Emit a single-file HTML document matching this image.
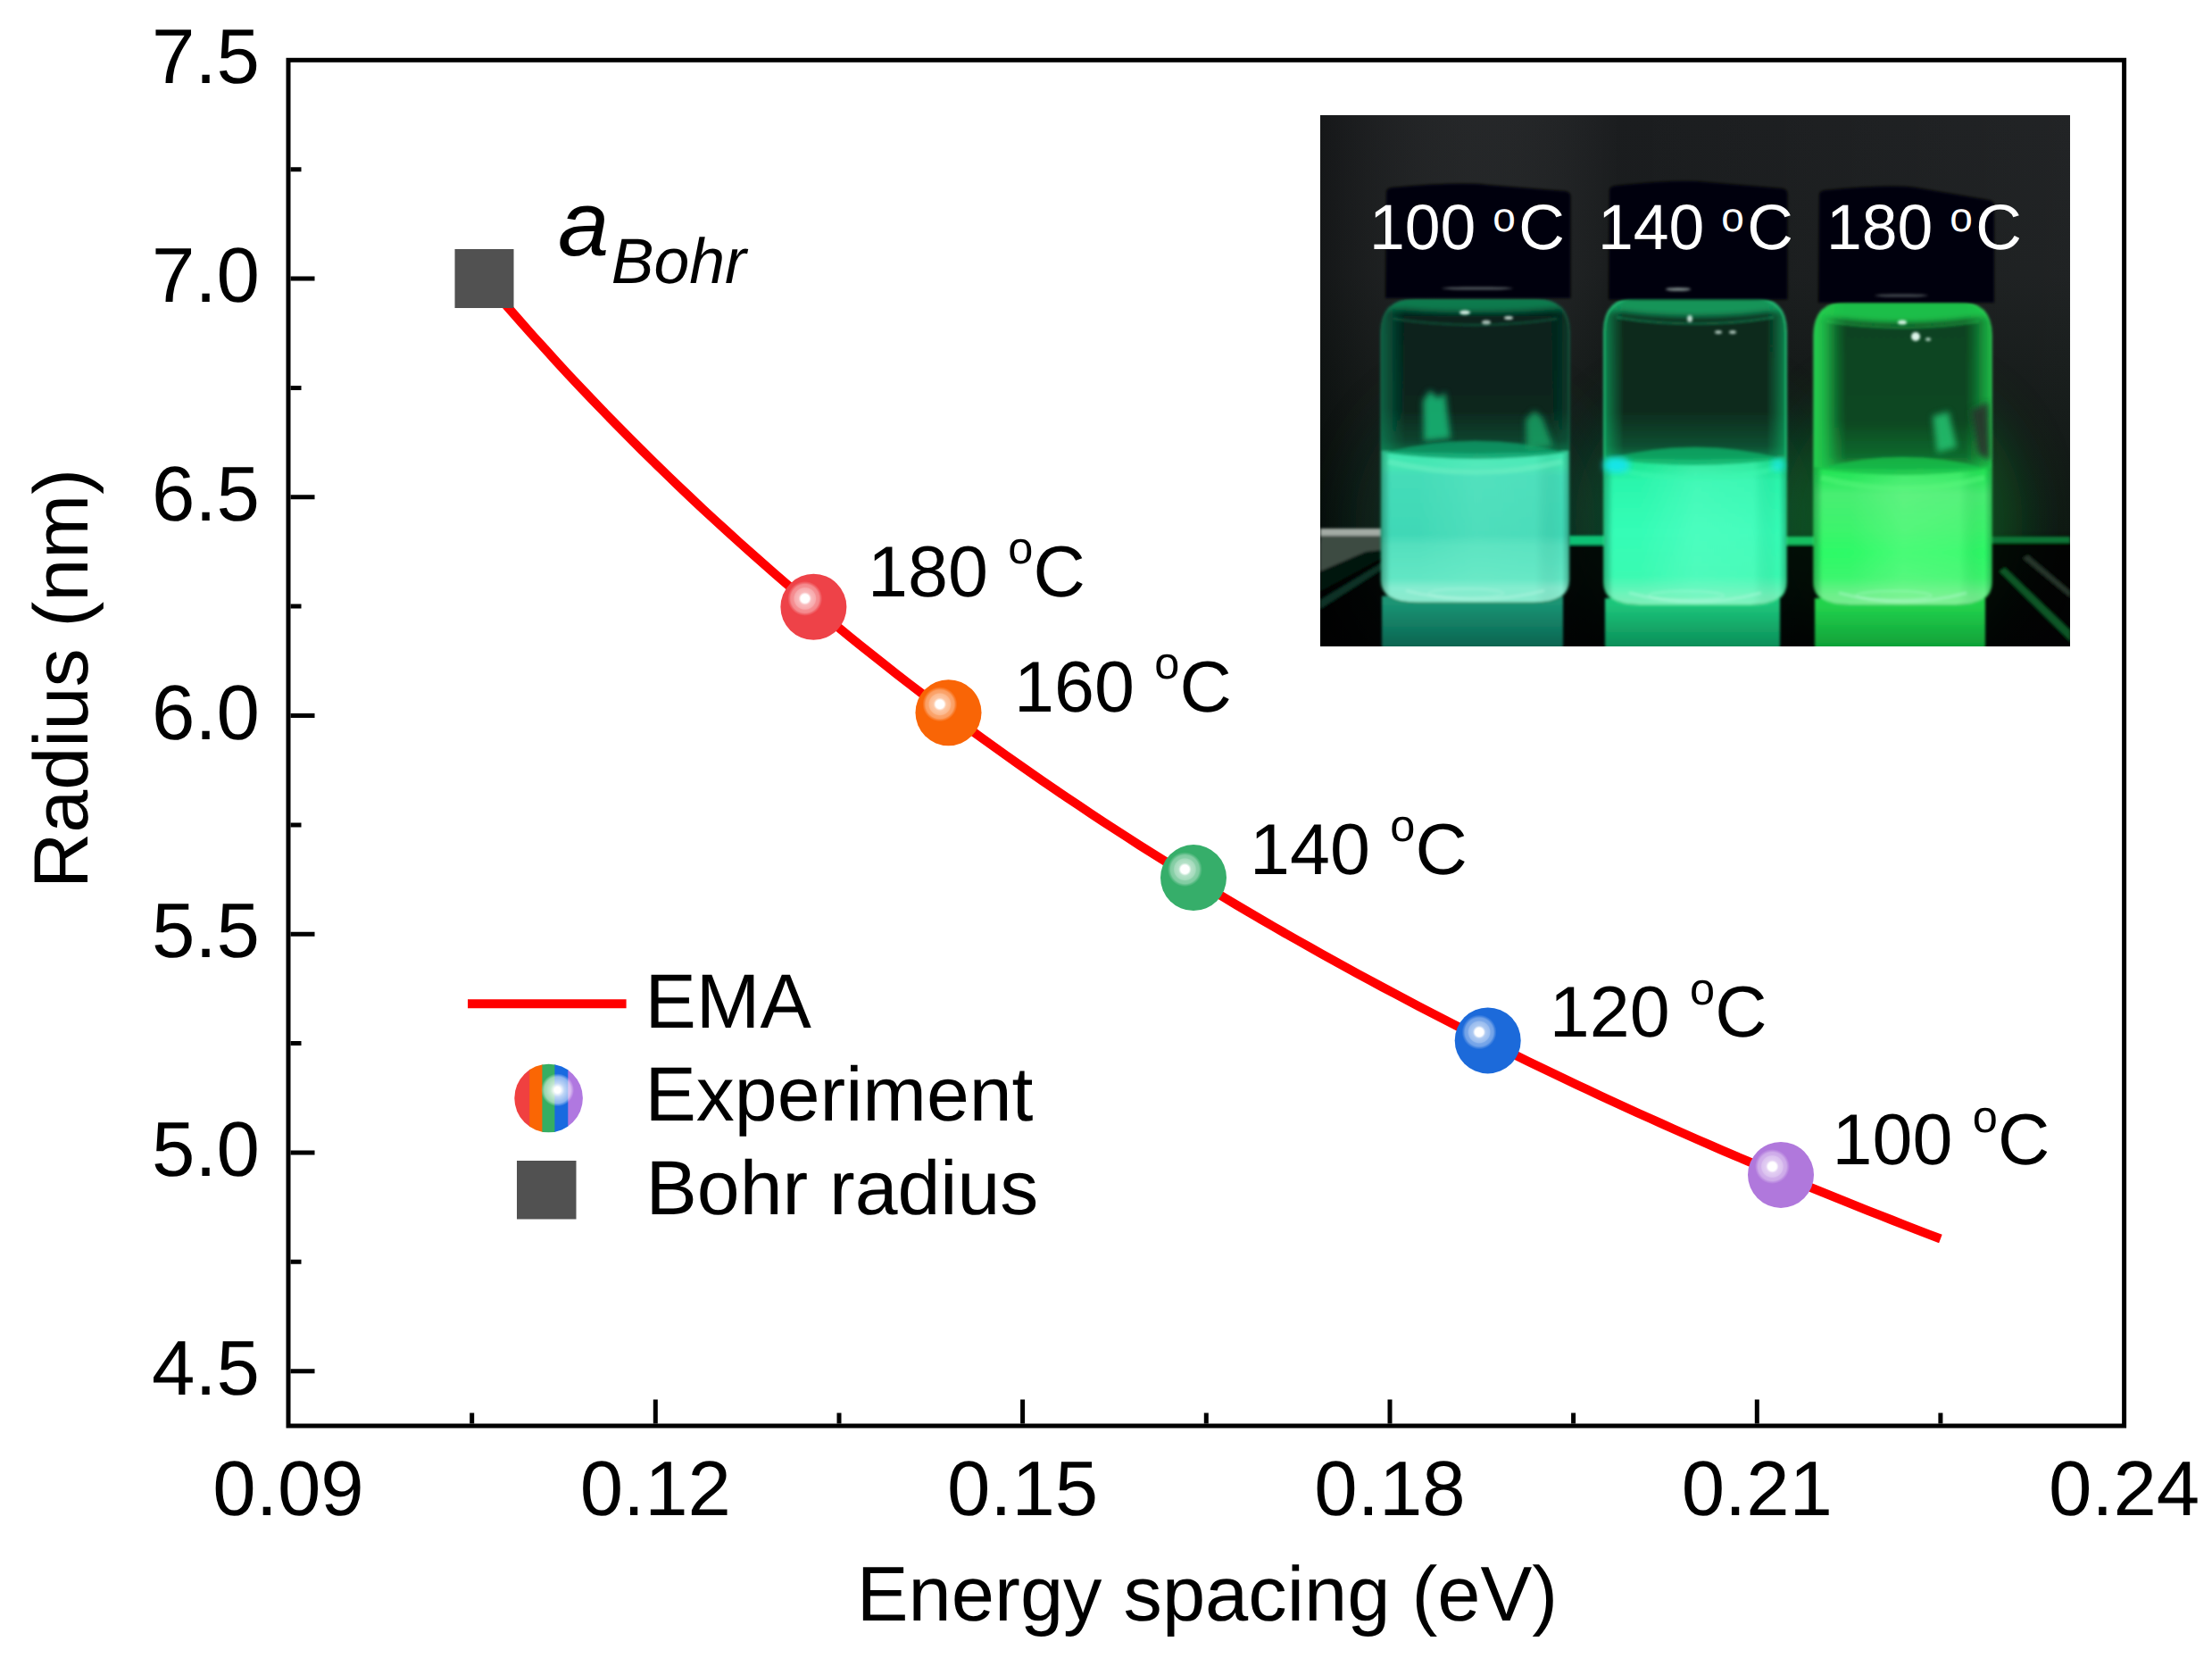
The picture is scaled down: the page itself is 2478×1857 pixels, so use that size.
<!DOCTYPE html>
<html lang="en"><head><meta charset="utf-8"><title>Radius vs energy spacing</title>
<style>html,body{margin:0;padding:0;background:#fff}body{width:2478px;height:1857px;overflow:hidden}svg{display:block}</style>
</head><body>
<svg width="2478" height="1857" viewBox="0 0 2478 1857" font-family="Liberation Sans, sans-serif" text-rendering="geometricPrecision">
<defs>
<radialGradient id="hl" cx="0.5" cy="0.5" r="0.5">
<stop offset="0" stop-color="#fff" stop-opacity="1"/>
<stop offset="0.24" stop-color="#fff" stop-opacity="1"/>
<stop offset="0.37" stop-color="#fff" stop-opacity="0.64"/>
<stop offset="0.6" stop-color="#fff" stop-opacity="0.55"/>
<stop offset="0.66" stop-color="#fff" stop-opacity="0.42"/>
<stop offset="0.82" stop-color="#fff" stop-opacity="0.37"/>
<stop offset="0.89" stop-color="#fff" stop-opacity="0.2"/>
<stop offset="1" stop-color="#fff" stop-opacity="0"/>
</radialGradient>
<radialGradient id="hl2" cx="0.5" cy="0.5" r="0.5">
<stop offset="0" stop-color="#fff" stop-opacity="1"/>
<stop offset="0.18" stop-color="#fff" stop-opacity="1"/>
<stop offset="0.42" stop-color="#fff" stop-opacity="0.72"/>
<stop offset="0.8" stop-color="#fff" stop-opacity="0.5"/>
<stop offset="1" stop-color="#fff" stop-opacity="0"/>
</radialGradient>
<clipPath id="lgc"><circle cx="614.6" cy="1230" r="38.3"/></clipPath>
<clipPath id="pc"><rect x="1479" y="129" width="840" height="595"/></clipPath>
<filter id="b1" x="-5%" y="-5%" width="110%" height="110%"><feGaussianBlur stdDeviation="1.7"/></filter>
<filter id="b3" x="-15%" y="-15%" width="130%" height="130%"><feGaussianBlur stdDeviation="3.5"/></filter>
<filter id="b8" x="-30%" y="-30%" width="160%" height="160%"><feGaussianBlur stdDeviation="10"/></filter>
<filter id="b20" x="-60%" y="-60%" width="220%" height="220%"><feGaussianBlur stdDeviation="30"/></filter>
<linearGradient id="bgv" x1="0" y1="129" x2="0" y2="724" gradientUnits="userSpaceOnUse">
<stop offset="0" stop-color="#1b1d1f"/><stop offset="0.3" stop-color="#191c1d"/><stop offset="0.55" stop-color="#101614"/><stop offset="0.78" stop-color="#08100c"/><stop offset="0.80" stop-color="#030806"/><stop offset="1" stop-color="#020507"/></linearGradient>
<linearGradient id="bgh" x1="1479" y1="0" x2="2319" y2="0" gradientUnits="userSpaceOnUse">
<stop offset="0" stop-color="#000" stop-opacity="0.2"/><stop offset="0.4" stop-color="#fff" stop-opacity="0"/><stop offset="1" stop-color="#fff" stop-opacity="0.03"/></linearGradient>
<linearGradient id="v1g" x1="1547" y1="0" x2="1758" y2="0" gradientUnits="userSpaceOnUse">
<stop offset="0" stop-color="#0c6a48"/><stop offset="0.03" stop-color="#0c6a48"/><stop offset="0.096" stop-color="#07211a"/><stop offset="0.9359999999999999" stop-color="#07211a"/><stop offset="0.98" stop-color="#0a4430"/><stop offset="1" stop-color="#0a4430"/></linearGradient>
<linearGradient id="v1gv" x1="0" y1="335" x2="0" y2="505" gradientUnits="userSpaceOnUse">
<stop offset="0" stop-color="#0f9a60" stop-opacity="0"/><stop offset="0.72" stop-color="#0f9a60" stop-opacity="0.03"/><stop offset="0.93" stop-color="#0f9a60" stop-opacity="0.28"/><stop offset="1" stop-color="#0f9a60" stop-opacity="0.55"/></linearGradient>
<linearGradient id="v1l" x1="0" y1="505" x2="0" y2="675.5" gradientUnits="userSpaceOnUse"><stop offset="0" stop-color="#3ee8b0"/><stop offset="0.1" stop-color="#46e6b4"/><stop offset="0.17" stop-color="#44dcb8"/><stop offset="0.55" stop-color="#40d8b6"/><stop offset="0.62" stop-color="#54e0be"/><stop offset="0.84" stop-color="#62e6c4"/><stop offset="0.9" stop-color="#86ecd0"/><stop offset="1" stop-color="#8ce8cc"/></linearGradient>
<linearGradient id="v1lh" x1="1547" y1="0" x2="1758" y2="0" gradientUnits="userSpaceOnUse">
<stop offset="0" stop-color="#002a18" stop-opacity="0.35"/><stop offset="0.05" stop-color="#002a18" stop-opacity="0"/><stop offset="0.2" stop-color="#7af0cc" stop-opacity="0.0"/><stop offset="0.5" stop-color="#7af0cc" stop-opacity="0.25"/><stop offset="0.82" stop-color="#7af0cc" stop-opacity="0.18"/><stop offset="0.96" stop-color="#002a18" stop-opacity="0"/><stop offset="1" stop-color="#002a18" stop-opacity="0.3"/></linearGradient>
<linearGradient id="v1r" x1="0" y1="675.5" x2="0" y2="724" gradientUnits="userSpaceOnUse"><stop offset="0" stop-color="#1a9474"/><stop offset="1" stop-color="#0a6450"/></linearGradient>
<clipPath id="v1c"><path d="M1547,373 Q1547,335 1585,335 H1720 Q1758,335 1758,373 V649.5 Q1758,675.5 1718,675.5 H1587 Q1547,675.5 1547,649.5Z"/></clipPath>
<linearGradient id="v2g" x1="1797" y1="0" x2="2001" y2="0" gradientUnits="userSpaceOnUse">
<stop offset="0" stop-color="#15b066"/><stop offset="0.02" stop-color="#15b066"/><stop offset="0.064" stop-color="#08281b"/><stop offset="0.9359999999999999" stop-color="#08281b"/><stop offset="0.98" stop-color="#15b066"/><stop offset="1" stop-color="#15b066"/></linearGradient>
<linearGradient id="v2gv" x1="0" y1="333.5" x2="0" y2="512" gradientUnits="userSpaceOnUse">
<stop offset="0" stop-color="#16b06a" stop-opacity="0"/><stop offset="0.72" stop-color="#16b06a" stop-opacity="0.03"/><stop offset="0.93" stop-color="#16b06a" stop-opacity="0.28"/><stop offset="1" stop-color="#16b06a" stop-opacity="0.55"/></linearGradient>
<linearGradient id="v2l" x1="0" y1="512" x2="0" y2="678" gradientUnits="userSpaceOnUse"><stop offset="0" stop-color="#1ee090"/><stop offset="0.08" stop-color="#22ea9a"/><stop offset="0.16" stop-color="#2af6ac"/><stop offset="0.5" stop-color="#34fdb6"/><stop offset="0.8" stop-color="#3afab2"/><stop offset="0.92" stop-color="#6cf4ba"/><stop offset="1" stop-color="#80eeb8"/></linearGradient>
<linearGradient id="v2lh" x1="1797" y1="0" x2="2001" y2="0" gradientUnits="userSpaceOnUse">
<stop offset="0" stop-color="#002a18" stop-opacity="0.35"/><stop offset="0.05" stop-color="#002a18" stop-opacity="0"/><stop offset="0.2" stop-color="#8cffd8" stop-opacity="0.0"/><stop offset="0.5" stop-color="#8cffd8" stop-opacity="0.25"/><stop offset="0.82" stop-color="#8cffd8" stop-opacity="0.18"/><stop offset="0.96" stop-color="#002a18" stop-opacity="0"/><stop offset="1" stop-color="#002a18" stop-opacity="0.3"/></linearGradient>
<linearGradient id="v2r" x1="0" y1="678" x2="0" y2="724" gradientUnits="userSpaceOnUse"><stop offset="0" stop-color="#1cc47a"/><stop offset="1" stop-color="#0c8e58"/></linearGradient>
<clipPath id="v2c"><path d="M1797,371.5 Q1797,333.5 1835,333.5 H1963 Q2001,333.5 2001,371.5 V652 Q2001,678 1961,678 H1837 Q1797,678 1797,652Z"/></clipPath>
<linearGradient id="v3g" x1="2032" y1="0" x2="2231" y2="0" gradientUnits="userSpaceOnUse">
<stop offset="0" stop-color="#20cc4e"/><stop offset="0.05" stop-color="#20cc4e"/><stop offset="0.16000000000000003" stop-color="#0a4220"/><stop offset="0.888" stop-color="#0a4220"/><stop offset="0.965" stop-color="#1dc048"/><stop offset="1" stop-color="#1dc048"/></linearGradient>
<linearGradient id="v3gv" x1="0" y1="338" x2="0" y2="523" gradientUnits="userSpaceOnUse">
<stop offset="0" stop-color="#20cc4e" stop-opacity="0"/><stop offset="0.72" stop-color="#20cc4e" stop-opacity="0.03"/><stop offset="0.93" stop-color="#20cc4e" stop-opacity="0.28"/><stop offset="1" stop-color="#20cc4e" stop-opacity="0.55"/></linearGradient>
<linearGradient id="v3l" x1="0" y1="523" x2="0" y2="678" gradientUnits="userSpaceOnUse"><stop offset="0" stop-color="#22e252"/><stop offset="0.1" stop-color="#2ee860"/><stop offset="0.2" stop-color="#48ee72"/><stop offset="0.45" stop-color="#3cf46c"/><stop offset="0.62" stop-color="#2cfa66"/><stop offset="0.8" stop-color="#3cf66e"/><stop offset="0.92" stop-color="#6cf08a"/><stop offset="1" stop-color="#78ea90"/></linearGradient>
<linearGradient id="v3lh" x1="2032" y1="0" x2="2231" y2="0" gradientUnits="userSpaceOnUse">
<stop offset="0" stop-color="#002a18" stop-opacity="0.35"/><stop offset="0.05" stop-color="#002a18" stop-opacity="0"/><stop offset="0.2" stop-color="#9cffa8" stop-opacity="0.0"/><stop offset="0.5" stop-color="#9cffa8" stop-opacity="0.25"/><stop offset="0.82" stop-color="#9cffa8" stop-opacity="0.18"/><stop offset="0.96" stop-color="#002a18" stop-opacity="0"/><stop offset="1" stop-color="#002a18" stop-opacity="0.3"/></linearGradient>
<linearGradient id="v3r" x1="0" y1="678" x2="0" y2="724" gradientUnits="userSpaceOnUse"><stop offset="0" stop-color="#22d24c"/><stop offset="1" stop-color="#10a038"/></linearGradient>
<clipPath id="v3c"><path d="M2032,376 Q2032,338 2070,338 H2193 Q2231,338 2231,376 V652 Q2231,678 2191,678 H2072 Q2032,678 2032,652Z"/></clipPath>
</defs>
<rect width="2478" height="1857" fill="#fff"/>
<g clip-path="url(#pc)">
<rect x="1479" y="129" width="840" height="595" fill="url(#bgv)"/>
<rect x="1479" y="129" width="840" height="595" fill="url(#bgh)"/>
<ellipse cx="1652.5" cy="585" rx="135" ry="150" fill="#083c2a" opacity="0.42" filter="url(#b20)"/>
<ellipse cx="1899.0" cy="585" rx="135" ry="150" fill="#0a6a3c" opacity="0.5" filter="url(#b20)"/>
<ellipse cx="2131.5" cy="585" rx="135" ry="150" fill="#0b7a2c" opacity="0.5" filter="url(#b20)"/>
<g filter="url(#b1)">
<rect x="1470" y="607" width="860" height="130" fill="#020605" opacity="0.8"/>
<path d="M1479,592 H1549 V600.5 H1479Z" fill="#a3aba4"/>
<path d="M1479,600.5 H1549 V616 L1530,618 L1479,640Z" fill="#3c4b42"/>
<path d="M1479,641 L1532,618 L1549,617 L1549,624 L1479,662Z" fill="#06120d"/>
<path d="M1479,672 L1549,630 L1549,637 L1479,682Z" fill="#0c3a2a" opacity="0.85"/>
<rect x="1757" y="600" width="42" height="10" fill="#10c274"/>
<rect x="1999" y="601" width="35" height="9" fill="#12c060"/>
<rect x="2230" y="601" width="89" height="7" fill="#0e7436"/>
<path d="M2246,636 L2319,706 L2319,718 L2240,640Z" fill="#0c5e2c" opacity="0.9"/>
<path d="M2272,622 L2319,662 L2319,669 L2266,625Z" fill="#29392f" opacity="0.9"/>
</g>
<g filter="url(#b1)">
<rect x="1548" y="667.5" width="203" height="60.5" fill="url(#v1r)"/>
<g clip-path="url(#v1c)">
<path d="M1547,373 Q1547,335 1585,335 H1720 Q1758,335 1758,373 V649.5 Q1758,675.5 1718,675.5 H1587 Q1547,675.5 1547,649.5Z" fill="#07211a"/>
<rect x="1517" y="305" width="42.7" height="400.5" fill="#0c6a48" filter="url(#b8)" opacity="0.9"/>
<rect x="1749.6" y="305" width="38.4" height="400.5" fill="#0a4430" filter="url(#b8)" opacity="0.7"/>
<path d="M1542,330 H1763 V344.4 Q1652.5,356.2 1542,344.4Z" fill="#0f9a60" filter="url(#b3)" opacity="0.75"/>
<path d="M1547,373 Q1547,335 1585,335 H1720 Q1758,335 1758,373 V649.5 Q1758,675.5 1718,675.5 H1587 Q1547,675.5 1547,649.5Z" fill="url(#v1gv)"/>
</g>
<path d="M1547,373 Q1547,335 1585,335 H1720 Q1758,335 1758,373 V649.5 Q1758,675.5 1718,675.5 H1587 Q1547,675.5 1547,649.5Z" fill="none" stroke="#1a9a6a" stroke-width="1.8" opacity="0.35"/>
<path d="M1561,357 Q1652.5,371 1744,357" stroke="#1a9a6a" stroke-width="2.2" fill="none" opacity="0.35"/>
<path d="M1547.5,505 Q1652.5,511 1757.5,505 V649.5 Q1757.5,674.5 1718,674.5 H1587 Q1547.5,674.5 1547.5,649.5Z" fill="url(#v1l)"/>
<path d="M1547.5,505 Q1652.5,511 1757.5,505 V649.5 Q1757.5,674.5 1718,674.5 H1587 Q1547.5,674.5 1547.5,649.5Z" fill="url(#v1lh)"/>
<path d="M1550,507 Q1652.5,481 1755,507 Q1652.5,521 1550,507Z" fill="#0c9c68" opacity="0.8"/>
<path d="M1555,517 Q1652.5,541 1750,517" stroke="#74f2c6" stroke-width="6" fill="none" opacity="0.45"/>
<path d="M1575,661.5 Q1652.5,681.5 1730,661.5" stroke="#d0fff0" stroke-width="3" fill="none" opacity="0.3"/>
<ellipse cx="1642.5" cy="664.5" rx="42" ry="5" stroke="#d0fff0" stroke-width="2" fill="none" opacity="0.25"/>
</g>
<path d="M1553,215 Q1553,211 1559,210 Q1636.25,203 1666.25,207 L1753.5,214 Q1759.5,215 1759.5,220 V334 H1552Z" fill="#030307" filter="url(#b1)"/>
<g filter="url(#b1)">
<rect x="1798" y="670" width="196" height="58" fill="url(#v2r)"/>
<g clip-path="url(#v2c)">
<path d="M1797,371.5 Q1797,333.5 1835,333.5 H1963 Q2001,333.5 2001,371.5 V652 Q2001,678 1961,678 H1837 Q1797,678 1797,652Z" fill="#08281b"/>
<rect x="1767" y="303.5" width="38.2" height="404.5" fill="#15b066" filter="url(#b8)" opacity="0.85"/>
<rect x="1992.8" y="303.5" width="38.2" height="404.5" fill="#15b066" filter="url(#b8)" opacity="0.85"/>
<path d="M1792,328.5 H2006 V346.7 Q1899.0,363.5 1792,346.7Z" fill="#16b06a" filter="url(#b3)" opacity="0.8"/>
<path d="M1797,371.5 Q1797,333.5 1835,333.5 H1963 Q2001,333.5 2001,371.5 V652 Q2001,678 1961,678 H1837 Q1797,678 1797,652Z" fill="url(#v2gv)"/>
</g>
<path d="M1797,371.5 Q1797,333.5 1835,333.5 H1963 Q2001,333.5 2001,371.5 V652 Q2001,678 1961,678 H1837 Q1797,678 1797,652Z" fill="none" stroke="#2ee890" stroke-width="1.8" opacity="0.75"/>
<path d="M1811,355.5 Q1899.0,369.5 1987,355.5" stroke="#2ee890" stroke-width="2.2" fill="none" opacity="0.35"/>
<path d="M1797.5,512 Q1899.0,518 2000.5,512 V652 Q2000.5,677 1961,677 H1837 Q1797.5,677 1797.5,652Z" fill="url(#v2l)"/>
<path d="M1797.5,512 Q1899.0,518 2000.5,512 V652 Q2000.5,677 1961,677 H1837 Q1797.5,677 1797.5,652Z" fill="url(#v2lh)"/>
<path d="M1800,514 Q1899.0,488 1998,514 Q1899.0,528 1800,514Z" fill="#0fae66" opacity="0.8"/>
<path d="M1805,524 Q1899.0,548 1993,524" stroke="#3cf8b0" stroke-width="6" fill="none" opacity="0.45"/>
<ellipse cx="1811" cy="521" rx="15" ry="9" fill="#18e4ec" opacity="0.95" filter="url(#b3)"/>
<ellipse cx="1992" cy="521" rx="8" ry="7" fill="#18e4ec" opacity="0.7" filter="url(#b3)"/>
<path d="M1825,664 Q1899.0,684 1973,664" stroke="#d0fff0" stroke-width="3" fill="none" opacity="0.3"/>
<ellipse cx="1889.0" cy="667" rx="42" ry="5" stroke="#d0fff0" stroke-width="2" fill="none" opacity="0.25"/>
</g>
<path d="M1803,213 Q1803,209 1809,208 Q1882.75,200 1912.75,204 L1996.5,211 Q2002.5,212 2002.5,217 V335.5 H1802Z" fill="#030307" filter="url(#b1)"/>
<g filter="url(#b1)">
<rect x="2033" y="670" width="191" height="58" fill="url(#v3r)"/>
<g clip-path="url(#v3c)">
<path d="M2032,376 Q2032,338 2070,338 H2193 Q2231,338 2231,376 V652 Q2231,678 2191,678 H2072 Q2032,678 2032,652Z" fill="#0a4220"/>
<rect x="2002" y="308" width="49.9" height="400" fill="#20cc4e" filter="url(#b8)" opacity="1"/>
<rect x="2217.1" y="308" width="43.9" height="400" fill="#1dc048" filter="url(#b8)" opacity="0.95"/>
<path d="M2027,333 H2236 V352.9 Q2131.5,371.8 2027,352.9Z" fill="#20cc4e" filter="url(#b3)" opacity="0.9"/>
<path d="M2032,376 Q2032,338 2070,338 H2193 Q2231,338 2231,376 V652 Q2231,678 2191,678 H2072 Q2032,678 2032,652Z" fill="url(#v3gv)"/>
</g>
<path d="M2032,376 Q2032,338 2070,338 H2193 Q2231,338 2231,376 V652 Q2231,678 2191,678 H2072 Q2032,678 2032,652Z" fill="none" stroke="#36e860" stroke-width="1.8" opacity="0.6"/>
<path d="M2046,360 Q2131.5,374 2217,360" stroke="#36e860" stroke-width="2.2" fill="none" opacity="0.35"/>
<path d="M2032.5,523 Q2131.5,529 2230.5,523 V652 Q2230.5,677 2191,677 H2072 Q2032.5,677 2032.5,652Z" fill="url(#v3l)"/>
<path d="M2032.5,523 Q2131.5,529 2230.5,523 V652 Q2230.5,677 2191,677 H2072 Q2032.5,677 2032.5,652Z" fill="url(#v3lh)"/>
<path d="M2035,525 Q2131.5,499 2228,525 Q2131.5,539 2035,525Z" fill="#18c04a" opacity="0.8"/>
<path d="M2040,535 Q2131.5,559 2223,535" stroke="#5cf87c" stroke-width="6" fill="none" opacity="0.45"/>
<path d="M2060,664 Q2131.5,684 2203,664" stroke="#d0fff0" stroke-width="3" fill="none" opacity="0.3"/>
<ellipse cx="2121.5" cy="667" rx="42" ry="5" stroke="#d0fff0" stroke-width="2" fill="none" opacity="0.25"/>
</g>
<path d="M2038,218 Q2038,214 2044,213 Q2116.0,206 2146.0,210 L2228,224 Q2234,225 2234,230 V339 H2037Z" fill="#030307" filter="url(#b1)"/>
<g filter="url(#b3)">
<path d="M1594,449 l8,-12 l9,9 l8,-7 l6,52 l-30,3Z" fill="#1bb474" opacity="0.9"/>
<path d="M1709,470 l10,-10 l9,8 l12,32 l-30,4Z" fill="#17a868" opacity="0.8"/>
<path d="M2165,466 l18,-5 l9,40 l-22,6Z" fill="#26c472" opacity="0.85"/>
<path d="M2208,460 l19,-10 l2,66 l-13,-8Z" fill="#26362c" opacity="0.95"/>
</g>
<g fill="#eafff6" filter="url(#b1)">
<ellipse cx="1641" cy="350" rx="6" ry="2.5" opacity="0.9"/>
<ellipse cx="1665" cy="361" rx="5" ry="2.5" opacity="0.7"/>
<ellipse cx="1690" cy="356" rx="5" ry="2" opacity="0.8"/>
<ellipse cx="1893" cy="357" rx="3" ry="4" opacity="0.8"/>
<ellipse cx="1925" cy="372" rx="4" ry="2" opacity="0.7"/>
<ellipse cx="1941" cy="372" rx="4" ry="2" opacity="0.7"/>
<ellipse cx="2131" cy="361" rx="5" ry="2.5" opacity="0.9"/>
<ellipse cx="2146" cy="377" rx="5" ry="5" opacity="0.95"/>
<ellipse cx="2160" cy="380" rx="3" ry="2" opacity="0.7"/>
<ellipse cx="1880" cy="324" rx="14" ry="2" opacity="0.5"/>
<ellipse cx="1655" cy="323" rx="40" ry="1.6" opacity="0.35"/>
<ellipse cx="2130" cy="331" rx="30" ry="1.6" opacity="0.3"/>
</g>
<g font-size="71.5" fill="#fff">
<text x="1534.0" y="279.3">100 <tspan x="1672.3" font-size="46" dy="-20.7">o</tspan><tspan x="1701.3" dy="20.7">C</tspan></text>
<text x="1790.0" y="279.3">140 <tspan x="1928.3" font-size="46" dy="-20.7">o</tspan><tspan x="1957.3" dy="20.7">C</tspan></text>
<text x="2046.0" y="279.3">180 <tspan x="2184.3" font-size="46" dy="-20.7">o</tspan><tspan x="2213.3" dy="20.7">C</tspan></text>
</g>
</g>
<path d="M542.4,313.3 L556.0,329.3 L569.6,344.9 L583.2,360.4 L596.8,375.7 L610.4,390.7 L623.9,405.6 L637.5,420.3 L651.1,434.7 L664.7,449.0 L678.3,463.1 L691.9,477.0 L705.5,490.8 L719.1,504.4 L732.7,517.8 L746.3,531.0 L759.9,544.1 L773.5,557.0 L787.1,569.8 L800.7,582.4 L814.3,594.8 L827.9,607.1 L841.5,619.3 L855.1,631.3 L868.7,643.2 L882.3,655.0 L895.9,666.6 L909.5,678.1 L923.1,689.5 L936.7,700.7 L950.3,711.8 L963.9,722.8 L977.5,733.7 L991.1,744.4 L1004.6,755.1 L1018.2,765.6 L1031.8,776.0 L1045.4,786.4 L1059.0,796.6 L1072.6,806.7 L1086.2,816.6 L1099.8,826.5 L1113.4,836.3 L1127.0,846.0 L1140.6,855.6 L1154.2,865.1 L1167.8,874.6 L1181.4,883.9 L1195.0,893.1 L1208.6,902.2 L1222.2,911.3 L1235.8,920.3 L1249.4,929.1 L1263.0,937.9 L1276.6,946.7 L1290.2,955.3 L1303.8,963.8 L1317.4,972.3 L1331.0,980.7 L1344.6,989.0 L1358.2,997.3 L1371.8,1005.5 L1385.3,1013.6 L1398.9,1021.6 L1412.5,1029.6 L1426.1,1037.5 L1439.7,1045.3 L1453.3,1053.0 L1466.9,1060.7 L1480.5,1068.3 L1494.1,1075.9 L1507.7,1083.4 L1521.3,1090.8 L1534.9,1098.2 L1548.5,1105.5 L1562.1,1112.7 L1575.7,1119.9 L1589.3,1127.1 L1602.9,1134.1 L1616.5,1141.1 L1630.1,1148.1 L1643.7,1155.0 L1657.3,1161.9 L1670.9,1168.6 L1684.5,1175.4 L1698.1,1182.1 L1711.7,1188.7 L1725.3,1195.3 L1738.9,1201.8 L1752.5,1208.3 L1766.0,1214.7 L1779.6,1221.1 L1793.2,1227.5 L1806.8,1233.7 L1820.4,1240.0 L1834.0,1246.2 L1847.6,1252.3 L1861.2,1258.4 L1874.8,1264.5 L1888.4,1270.5 L1902.0,1276.5 L1915.6,1282.4 L1929.2,1288.3 L1942.8,1294.1 L1956.4,1299.9 L1970.0,1305.7 L1983.6,1311.4 L1997.2,1317.1 L2010.8,1322.7 L2024.4,1328.3 L2038.0,1333.9 L2051.6,1339.4 L2065.2,1344.9 L2078.8,1350.4 L2092.4,1355.8 L2106.0,1361.1 L2119.6,1366.5 L2133.2,1371.8 L2146.7,1377.1 L2160.3,1382.3 L2173.9,1387.5" fill="none" stroke="#ff0000" stroke-width="10" stroke-linecap="butt" stroke-linejoin="round"/>
<rect x="323.0" y="67.3" width="2056.6" height="1529.7" fill="none" stroke="#000" stroke-width="5"/>
<path d="M325.5,189.7h12 M325.5,312.0h27 M325.5,434.4h12 M325.5,556.8h27 M325.5,679.1h12 M325.5,801.5h27 M325.5,923.9h12 M325.5,1046.2h27 M325.5,1168.6h12 M325.5,1290.9h27 M325.5,1413.3h12 M325.5,1535.7h27 M528.7,1594.5v-12 M734.3,1594.5v-27 M940.0,1594.5v-12 M1145.6,1594.5v-27 M1351.3,1594.5v-12 M1557.0,1594.5v-27 M1762.6,1594.5v-12 M1968.3,1594.5v-27 M2173.9,1594.5v-12" stroke="#000" stroke-width="5" fill="none"/>
<g font-size="87" fill="#000">
<text x="291" y="93.3" text-anchor="end">7.5</text>
<text x="291" y="338.0" text-anchor="end">7.0</text>
<text x="291" y="582.8" text-anchor="end">6.5</text>
<text x="291" y="827.5" text-anchor="end">6.0</text>
<text x="291" y="1072.2" text-anchor="end">5.5</text>
<text x="291" y="1316.9" text-anchor="end">5.0</text>
<text x="291" y="1561.7" text-anchor="end">4.5</text>
<text x="323.0" y="1696.5" text-anchor="middle">0.09</text>
<text x="734.3" y="1696.5" text-anchor="middle">0.12</text>
<text x="1145.6" y="1696.5" text-anchor="middle">0.15</text>
<text x="1557.0" y="1696.5" text-anchor="middle">0.18</text>
<text x="1968.3" y="1696.5" text-anchor="middle">0.21</text>
<text x="2379.6" y="1696.5" text-anchor="middle">0.24</text>
<text x="1352.5" y="1815.3" text-anchor="middle" font-size="86.7">Energy spacing (eV)</text>
<text transform="translate(97.5,760) rotate(-90)" text-anchor="middle" font-size="86.3">Radius (nm)</text>
</g>
<rect x="509.5" y="279" width="66" height="66" fill="#515151"/>
<text x="625" y="286" font-size="103" font-style="italic" fill="#000">a<tspan font-size="71.5" dy="31" dx="2.5">Bohr</tspan></text>
<circle cx="911.4" cy="679.8" r="37" fill="#ee4248"/>
<circle cx="901.8" cy="670.4" r="19.5" fill="url(#hl)"/>
<circle cx="1062.5" cy="798.2" r="37" fill="#f96506"/>
<circle cx="1052.9" cy="788.8" r="19.5" fill="url(#hl)"/>
<circle cx="1337" cy="983.1" r="37" fill="#36ae6a"/>
<circle cx="1327.4" cy="973.7" r="19.5" fill="url(#hl)"/>
<circle cx="1666.7" cy="1165.4" r="37" fill="#1c6ada"/>
<circle cx="1657.1" cy="1156.0" r="19.5" fill="url(#hl)"/>
<circle cx="1995" cy="1315.9" r="37" fill="#b078dc"/>
<circle cx="1985.4" cy="1306.5" r="19.5" fill="url(#hl)"/>
<text x="972.1" y="667.6" font-size="80.8" fill="#000">180 <tspan font-size="50.5" dy="-36.5">o</tspan><tspan dy="36.5">C</tspan></text>
<text x="1136.1" y="796.8" font-size="80.8" fill="#000">160 <tspan font-size="50.5" dy="-36.5">o</tspan><tspan dy="36.5">C</tspan></text>
<text x="1400.1" y="978.5" font-size="80.8" fill="#000">140 <tspan font-size="50.5" dy="-36.5">o</tspan><tspan dy="36.5">C</tspan></text>
<text x="1735.8" y="1161.0" font-size="80.8" fill="#000">120 <tspan font-size="50.5" dy="-36.5">o</tspan><tspan dy="36.5">C</tspan></text>
<text x="2052.6" y="1304.2" font-size="80.8" fill="#000">100 <tspan font-size="50.5" dy="-36.5">o</tspan><tspan dy="36.5">C</tspan></text>
<path d="M524,1124.2H701.6" stroke="#ff0000" stroke-width="10" fill="none"/>
<g clip-path="url(#lgc)">
<rect x="575" y="1190" width="19.0" height="80" fill="#f04040"/>
<rect x="593.2" y="1190" width="15.0" height="80" fill="#fa6604"/>
<rect x="607.4" y="1190" width="14.8" height="80" fill="#36ae62"/>
<rect x="621.4" y="1190" width="15.7" height="80" fill="#186ae0"/>
<rect x="636.3" y="1190" width="18.5" height="80" fill="#b078e0"/>
<circle cx="624.6" cy="1220.8" r="18.5" fill="url(#hl2)"/>
</g>
<rect x="579" y="1300" width="66.5" height="65.5" fill="#515151"/>
<g font-size="86" fill="#000">
<text x="722.5" y="1150.7">EMA</text>
<text x="722.5" y="1255.1">Experiment</text>
<text x="723.5" y="1360.3">Bohr radius</text>
</g>
</svg>
</body></html>
